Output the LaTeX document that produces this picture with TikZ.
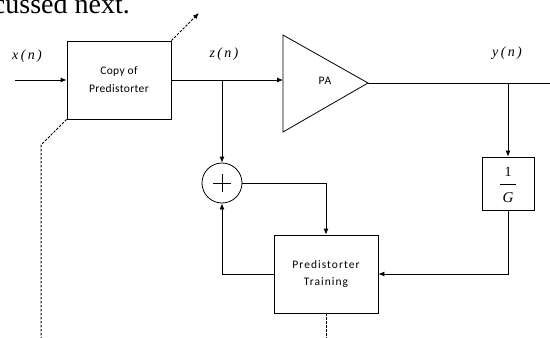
\documentclass[tikz,border=0pt]{standalone}
\usepackage{fontspec}
\setmainfont{Liberation Serif}
\newfontfamily\lblfont[LetterSpace=3]{Carlito}
\newfontfamily\lblwide[LetterSpace=9]{Carlito}
\usetikzlibrary{arrows.meta,calc}
\begin{document}
\begin{tikzpicture}[x=1pt,y=-1pt,
  blk/.style={draw,line width=0.8pt,rectangle,inner sep=0pt,align=center},
  wire/.style={line width=0.8pt},
  arr/.style={wire,-{Latex[length=6pt,width=5pt]}},
  dsh/.style={line width=1pt,dash pattern=on 2.5pt off 1.5pt},
  sig/.style={font=\fontsize{14}{14}\selectfont\itshape}]
\useasboundingbox (0,0) rectangle (550,338);
\begin{scope}
\clip (0,0) rectangle (550,338);
\node[anchor=base east,font=\fontsize{28}{28}\selectfont,inner sep=0pt] (txt) at (130,13) {cussed next.};
\end{scope}
% blocks
\node[blk,minimum width=104pt,minimum height=78pt,font=\lblfont\fontsize{11.5}{18}\selectfont] (copy) at (119,80) {Copy of\\Predistorter};
\node[blk,minimum width=104pt,minimum height=78pt,font=\lblwide\fontsize{11.5}{17.5}\selectfont] (train) at (326,274) {Predistorter\\Training};
\node[draw,circle,line width=0.8pt,minimum size=40pt,inner sep=0pt] (sum) at (222,183) {};
\draw[line width=0.8pt] (213,183) -- (231,183) (222,174) -- (222,192);
\node[draw,line width=0.8pt,minimum width=52pt,minimum height=53pt,inner sep=0pt] (inv) at (508,183.5) {};
\node[inner sep=0pt,font=\fontsize{14}{14}\selectfont] (one) at (508,172) {1};
\draw[line width=0.7pt] (500,184) -- (516,184);
\node[inner sep=0pt,font=\fontsize{15}{15}\selectfont\itshape] (gee) at (508,198) {G};
% PA
\coordinate (paT) at (283,35);
\coordinate (paB) at (283,132);
\coordinate (paO) at (368,83);
\coordinate (paI) at (283,80);
\draw[wire,line join=miter] (paT) -- (paO) -- (paB) -- cycle;
\node[font=\lblwide\fontsize{11.5}{12}\selectfont,inner sep=0pt] (palbl) at (325,81) {PA};
% labels
\node[sig] (xl) at (27,56) {x\,(\,n\,)};
\node[sig] (zl) at (224,54) {z\,(\,n\,)};
\node[sig] (yl) at (507,53) {y\,(\,n\,)};
% connectors
\coordinate (xin) at (15,80);
\coordinate (zb) at (222,80);
\coordinate (yb) at (508,83);
\coordinate (yend) at (550,83);
\draw[arr] (xin) -- (copy.west);
\draw[arr] (copy.east) -- (paI);
\draw[arr] (zb) -- (sum.north);
\draw[wire] (paO) -- (yend);
\draw[arr] (yb) -- (inv.north);
\draw[arr] (sum.east) -| (train.north);
\draw[arr] (train.west) -| (sum.south);
\draw[arr] (inv.south) |- (train.east);
% dashed
\coordinate (dA) at (199,13);
\coordinate (dB) at (41,145);
\coordinate (dC) at (41,338);
\coordinate (dD) at (326,338);
\draw[dsh,-{Latex[length=6pt,width=5pt]}] (copy.north east) -- (dA);
\draw[dsh] (copy.south west) -- (dB) -- (dC);
\draw[dsh] (train.south) -- (dD);
\end{tikzpicture}
\end{document}
